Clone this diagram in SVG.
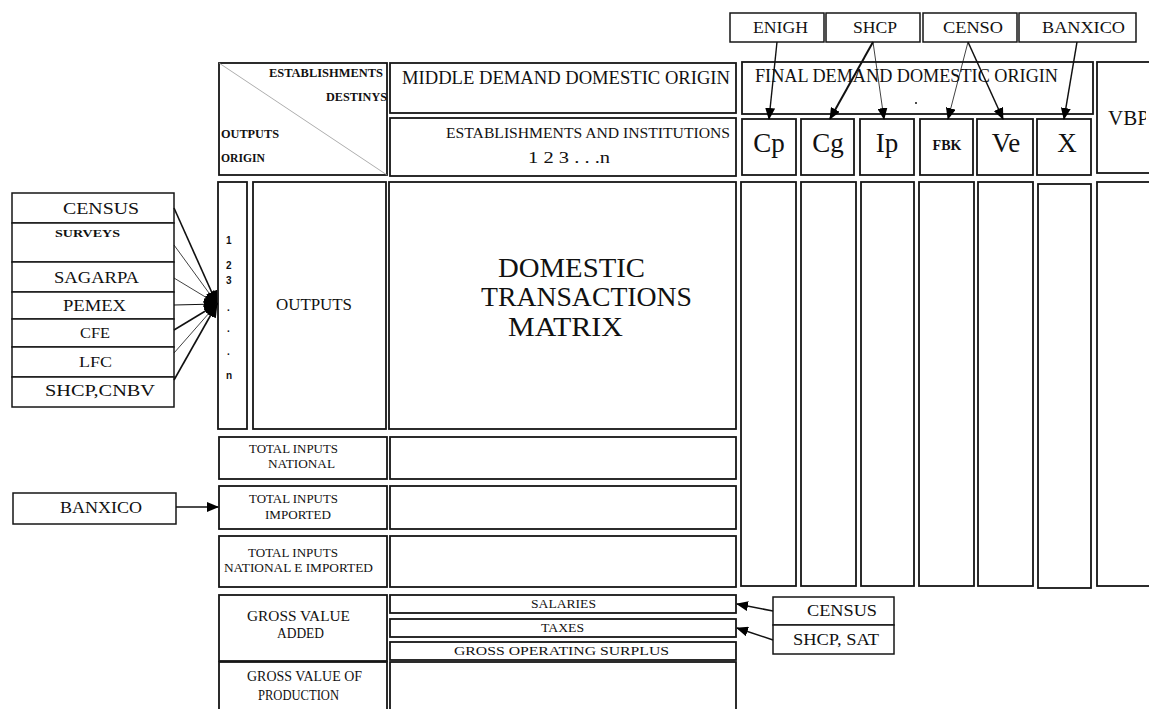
<svg xmlns="http://www.w3.org/2000/svg" width="1149" height="709" viewBox="0 0 1149 709">
<style>
.b{fill:#fff;stroke:#161616;stroke-width:1.8}
.s{fill:#fff;stroke:#161616;stroke-width:1.5}
.t{font-family:"Liberation Serif","Times New Roman",serif;fill:#111}
.tb{font-family:"Liberation Serif","Times New Roman",serif;fill:#111;font-weight:bold}
.n{font-family:"Liberation Sans",Arial,sans-serif;font-weight:bold;font-size:10px;fill:#111}
.c{fill:none;stroke:#111}
</style>
<defs>
<marker id="ah" markerUnits="userSpaceOnUse" markerWidth="12" markerHeight="10" refX="11" refY="5" orient="auto">
<path d="M0,0 L12,5 L0,10 Z" fill="#000"/>
</marker>
<marker id="ahl" markerUnits="userSpaceOnUse" markerWidth="14" markerHeight="12" refX="13" refY="6" orient="auto">
<path d="M0,0 L14,6 L0,12 Z" fill="#000"/>
</marker>
<clipPath id="pg"><rect x="0" y="0" width="1146" height="709"/></clipPath>
</defs>
<rect x="0" y="0" width="1149" height="709" fill="#fff"/>

<g id="header-corner">
<rect class="b" x="219" y="63" width="168" height="112"/>
<line x1="219" y1="63" x2="387" y2="175" stroke="#999" stroke-width="0.8"/>
<text class="tb" x="269" y="77" font-size="12" textLength="114" lengthAdjust="spacingAndGlyphs">ESTABLISHMENTS</text>
<text class="tb" x="326" y="101" font-size="12" textLength="61" lengthAdjust="spacingAndGlyphs">DESTINYS</text>
<text class="tb" x="221" y="138" font-size="12" textLength="58" lengthAdjust="spacingAndGlyphs">OUTPUTS</text>
<text class="tb" x="221" y="162" font-size="12" textLength="44" lengthAdjust="spacingAndGlyphs">ORIGIN</text>
</g>
<g id="middle-demand">
<rect class="b" x="390" y="63" width="346" height="50"/>
<text class="t" x="402" y="84" font-size="18" textLength="328" lengthAdjust="spacingAndGlyphs">MIDDLE DEMAND DOMESTIC ORIGIN</text>
</g>
<g id="establishments">
<rect class="b" x="390" y="118" width="346" height="58"/>
<text class="t" x="446" y="138" font-size="15" textLength="284" lengthAdjust="spacingAndGlyphs">ESTABLISHMENTS AND INSTITUTIONS</text>
<text class="t" x="528" y="163" font-size="16" textLength="82" lengthAdjust="spacingAndGlyphs">1 2 3 . . .n</text>
</g>
<g id="final-demand">
<rect class="b" x="742" y="62" width="351" height="52"/>
<text class="t" x="755" y="82" font-size="18" textLength="303" lengthAdjust="spacingAndGlyphs">FINAL DEMAND DOMESTIC ORIGIN</text>
<circle cx="916" cy="103" r="1" fill="#111"/>
</g>
<g id="vbp">
<rect class="b" x="1097" y="62" width="70" height="111"/>
<text class="t" x="1108" y="125" font-size="21" clip-path="url(#pg)">VBP</text>
</g>
<g id="cp"><rect class="b" x="742" y="119" width="54" height="56"/><text class="t" x="769" y="152" font-size="27" text-anchor="middle">Cp</text></g>
<g id="cg"><rect class="b" x="801" y="119" width="53" height="56"/><text class="t" x="828" y="152" font-size="27" text-anchor="middle">Cg</text></g>
<g id="ip"><rect class="b" x="860" y="119" width="54" height="56"/><text class="t" x="887" y="152" font-size="27" text-anchor="middle">Ip</text></g>
<g id="fbk"><rect class="b" x="920" y="119" width="53" height="56"/><text class="tb" x="947" y="150" font-size="14" text-anchor="middle">FBK</text></g>
<g id="ve"><rect class="b" x="977" y="119" width="56" height="56"/><text class="t" x="1006" y="152" font-size="27" text-anchor="middle">Ve</text></g>
<g id="x"><rect class="b" x="1037" y="119" width="54" height="56"/><text class="t" x="1067" y="152" font-size="27" text-anchor="middle">X</text></g>

<g id="columns">
<rect class="b" x="741" y="182" width="55" height="404"/>
<rect class="b" x="801" y="182" width="55" height="404"/>
<rect class="b" x="861" y="182" width="53" height="404"/>
<rect class="b" x="919" y="182" width="55" height="404"/>
<rect class="b" x="978" y="182" width="55" height="404"/>
<rect class="b" x="1038" y="184" width="53" height="404"/>
<rect class="b" x="1097" y="182" width="70" height="404"/>
</g>

<g id="src-enigh"><rect class="s" x="730" y="13" width="94" height="29"/><text class="t" x="753" y="33" font-size="16" textLength="55" lengthAdjust="spacingAndGlyphs">ENIGH</text></g>
<g id="src-shcp"><rect class="s" x="826" y="13" width="94" height="29"/><text class="t" x="853" y="33" font-size="16" textLength="44" lengthAdjust="spacingAndGlyphs">SHCP</text></g>
<g id="src-censo"><rect class="s" x="923" y="13" width="94" height="29"/><text class="t" x="943" y="33" font-size="16" textLength="60" lengthAdjust="spacingAndGlyphs">CENSO</text></g>
<g id="src-banxico-top"><rect class="s" x="1019" y="13" width="117" height="29"/><text class="t" x="1042" y="33" font-size="16" textLength="83" lengthAdjust="spacingAndGlyphs">BANXICO</text></g>

<g id="row-index">
<rect class="b" x="218" y="182" width="29" height="247"/>
<text class="n" x="226" y="244">1</text>
<text class="n" x="226" y="269">2</text>
<text class="n" x="226" y="284">3</text>
<text class="n" x="227" y="311">.</text>
<text class="n" x="227" y="332">.</text>
<text class="n" x="227" y="355">.</text>
<text class="n" x="226" y="379">n</text>
</g>
<g id="outputs"><rect class="b" x="253" y="182" width="133" height="247"/><text class="t" x="276" y="310" font-size="16" textLength="76" lengthAdjust="spacingAndGlyphs">OUTPUTS</text></g>
<g id="matrix">
<rect class="b" x="389" y="182" width="347" height="247"/>
<text class="t" x="498" y="277" font-size="28" textLength="147" lengthAdjust="spacingAndGlyphs">DOMESTIC</text>
<text class="t" x="481" y="306" font-size="28" textLength="211" lengthAdjust="spacingAndGlyphs">TRANSACTIONS</text>
<text class="t" x="508" y="336" font-size="28" textLength="115" lengthAdjust="spacingAndGlyphs">MATRIX</text>
</g>

<g id="src-left">
<rect class="s" x="12" y="193" width="162" height="30"/><text class="t" x="63" y="214" font-size="16" textLength="76" lengthAdjust="spacingAndGlyphs">CENSUS</text>
<rect class="s" x="12" y="223" width="162" height="39"/><text class="tb" x="55" y="237" font-size="10" textLength="65" lengthAdjust="spacingAndGlyphs">SURVEYS</text>
<rect class="s" x="12" y="262" width="162" height="30"/><text class="t" x="54" y="283" font-size="16" textLength="85" lengthAdjust="spacingAndGlyphs">SAGARPA</text>
<rect class="s" x="12" y="292" width="162" height="27"/><text class="t" x="63" y="311" font-size="16" textLength="63" lengthAdjust="spacingAndGlyphs">PEMEX</text>
<rect class="s" x="12" y="319" width="162" height="28"/><text class="t" x="80" y="338" font-size="15" textLength="30" lengthAdjust="spacingAndGlyphs">CFE</text>
<rect class="s" x="12" y="347" width="162" height="30"/><text class="t" x="79" y="367" font-size="15" textLength="33" lengthAdjust="spacingAndGlyphs">LFC</text>
<rect class="s" x="12" y="377" width="162" height="30"/><text class="t" x="45" y="396" font-size="16" textLength="110" lengthAdjust="spacingAndGlyphs">SHCP,CNBV</text>
</g>
<g id="src-banxico-left"><rect class="s" x="13" y="493" width="163" height="31"/><text class="t" x="60" y="513" font-size="16" textLength="82" lengthAdjust="spacingAndGlyphs">BANXICO</text></g>

<g id="total-national">
<rect class="b" x="219" y="437" width="168" height="42"/><rect class="b" x="390" y="437" width="346" height="42"/>
<text class="t" x="249" y="453" font-size="13" textLength="89" lengthAdjust="spacingAndGlyphs">TOTAL INPUTS</text>
<text class="t" x="268" y="468" font-size="13" textLength="67" lengthAdjust="spacingAndGlyphs">NATIONAL</text>
</g>
<g id="total-imported">
<rect class="b" x="219" y="486" width="168" height="43"/><rect class="b" x="390" y="486" width="346" height="43"/>
<text class="t" x="249" y="503" font-size="13" textLength="89" lengthAdjust="spacingAndGlyphs">TOTAL INPUTS</text>
<text class="t" x="265" y="519" font-size="13" textLength="66" lengthAdjust="spacingAndGlyphs">IMPORTED</text>
</g>
<g id="total-both">
<rect class="b" x="219" y="536" width="168" height="51"/><rect class="b" x="390" y="536" width="346" height="51"/>
<text class="t" x="248" y="557" font-size="13" textLength="90" lengthAdjust="spacingAndGlyphs">TOTAL INPUTS</text>
<text class="t" x="224" y="572" font-size="13" textLength="149" lengthAdjust="spacingAndGlyphs">NATIONAL E IMPORTED</text>
</g>
<g id="gva">
<rect class="b" x="219" y="595" width="168" height="66"/>
<text class="t" x="247" y="621" font-size="14" textLength="103" lengthAdjust="spacingAndGlyphs">GROSS VALUE</text>
<text class="t" x="277" y="638" font-size="14" textLength="47" lengthAdjust="spacingAndGlyphs">ADDED</text>
</g>
<g id="salaries"><rect class="b" x="390" y="595" width="346" height="18"/><text class="t" x="531" y="608" font-size="13" textLength="65" lengthAdjust="spacingAndGlyphs">SALARIES</text></g>
<g id="taxes"><rect class="b" x="390" y="619" width="346" height="18"/><text class="t" x="541" y="632" font-size="13" textLength="43" lengthAdjust="spacingAndGlyphs">TAXES</text></g>
<g id="gos"><rect class="b" x="390" y="642" width="346" height="18"/><text class="t" x="454" y="655" font-size="13" textLength="215" lengthAdjust="spacingAndGlyphs">GROSS OPERATING SURPLUS</text></g>
<g id="gvp">
<rect class="b" x="219" y="662" width="168" height="55"/><rect class="b" x="390" y="662" width="346" height="55"/>
<text class="t" x="247" y="681" font-size="14" textLength="115" lengthAdjust="spacingAndGlyphs">GROSS VALUE OF</text>
<text class="t" x="258" y="700" font-size="14" textLength="81" lengthAdjust="spacingAndGlyphs">PRODUCTION</text>
</g>
<g id="src-census-right"><rect class="s" x="773" y="597" width="121" height="28"/><text class="t" x="807" y="616" font-size="16" textLength="70" lengthAdjust="spacingAndGlyphs">CENSUS</text></g>
<g id="src-shcp-sat"><rect class="s" x="773" y="625" width="121" height="29"/><text class="t" x="793" y="645" font-size="16" textLength="86" lengthAdjust="spacingAndGlyphs">SHCP, SAT</text></g>

<g id="connectors">
<line class="c" x1="174" y1="208" x2="217" y2="304" stroke-width="1.6" marker-end="url(#ahl)"/>
<line class="c" x1="174" y1="245" x2="217" y2="304" stroke-width="0.8" marker-end="url(#ahl)"/>
<line class="c" x1="174" y1="278" x2="217" y2="304" stroke-width="0.8" marker-end="url(#ahl)"/>
<line class="c" x1="174" y1="305" x2="217" y2="304" stroke-width="1.2" marker-end="url(#ahl)"/>
<line class="c" x1="174" y1="330" x2="217" y2="304" stroke-width="1.6" marker-end="url(#ahl)"/>
<line class="c" x1="174" y1="353" x2="217" y2="304" stroke-width="0.8" marker-end="url(#ahl)"/>
<line class="c" x1="174" y1="380" x2="217" y2="304" stroke-width="1.6" marker-end="url(#ahl)"/>
<line class="c" x1="176" y1="507" x2="218" y2="507" stroke-width="1.3" marker-end="url(#ah)"/>
<line class="c" x1="777" y1="42" x2="769" y2="119" stroke-width="1.4" marker-end="url(#ah)"/>
<line class="c" x1="873" y1="42" x2="830" y2="119" stroke-width="2" marker-end="url(#ah)"/>
<line class="c" x1="873" y1="42" x2="884" y2="119" stroke-width="0.8" marker-end="url(#ah)"/>
<line class="c" x1="968" y1="42" x2="948" y2="119" stroke-width="0.8" marker-end="url(#ah)"/>
<line class="c" x1="968" y1="42" x2="1003" y2="119" stroke-width="1.5" marker-end="url(#ah)"/>
<line class="c" x1="1077" y1="42" x2="1064" y2="119" stroke-width="1.5" marker-end="url(#ah)"/>
<line class="c" x1="773" y1="611" x2="737" y2="604" stroke-width="1.5" marker-end="url(#ah)"/>
<line class="c" x1="773" y1="640" x2="737" y2="628" stroke-width="1.5" marker-end="url(#ah)"/>
</g>
</svg>
